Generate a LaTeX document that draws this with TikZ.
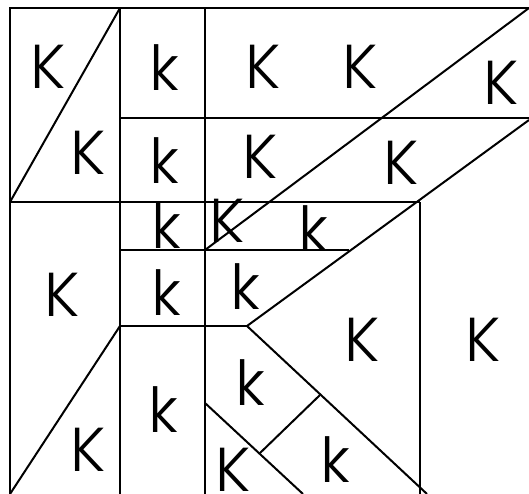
\documentclass[tikz,border=0pt]{standalone}
\usepackage{fontspec}
\setmainfont{Poppins Light}
\usetikzlibrary{positioning}

\begin{document}
\begin{tikzpicture}[x=1pt, y=-1pt, line width=2pt,
    big/.style={font=\fontsize{62}{62}\selectfont, inner sep=0pt}]
    \useasboundingbox (0,0) rectangle (529,494);

    % 点
    \coordinate (tl) at (10,8);
    \coordinate (tr) at (529,8);
    \coordinate (ml) at (10,202);
    \coordinate (bl) at (10,494);
    \coordinate (m) at (420,202);
    \coordinate (tip) at (247,326);

    % 外框与竖线
    \draw (tr) -- (tl) -- (bl);
    \draw (120,8) -- (120,494);
    \draw (205,8) -- (205,494);
    \draw (m) -- (420,494);

    % 横线
    \draw (120,118) -- (529,118);
    \draw (ml) -- (m);
    \draw (120,250) -- (349,250);
    \draw (120,326) -- (tip);

    % 斜线
    \draw (ml) -- (120,8);
    \draw (120,326) -- (bl);
    \draw (205,250) -- (tr);
    \draw (529,120) -- (tip);
    \draw (tip) -- (427,494);
    \draw (205,403) -- (303,494);
    \draw (320,395) -- (260,453);

    % 上排
    \node[big] (K1) at (48,67) {K};
    \node[big] (K2) at (88,153) {K};
    \node[big] (k1) at (164,68) {k};
    \node[big] (k2) at (164,161) {k};
    \node[big] (K3) at (263,67) {K};
    \node[big] (K4) at (360,67) {K};
    \node[big] (K5) at (501,83) {K};
    \node[big] (K6) at (260,157) {K};
    \node[big] (K7) at (401,163) {K};

    % 中排
    \node[big] (k3) at (166,226) {k};
    \node[big] (K8) at (227,221) {K};
    \node[big] (k4) at (313,229) {k};
    \node[big] (K9) at (62,295) {K};
    \node[big] (k5) at (166,293) {k};
    \node[big] (k6) at (245,287) {k};
    \node[big] (K10) at (362,340) {K};
    \node[big] (K11) at (483,340) {K};

    % 下排
    \node[big] (k7) at (163,410) {k};
    \node[big] (k8) at (250,383) {k};
    \node[big] (K12) at (88,450) {K};
    \node[big] (K13) at (233,470) {K};
    \node[big] (k9) at (335,460) {k};
\end{tikzpicture}
\end{document}
